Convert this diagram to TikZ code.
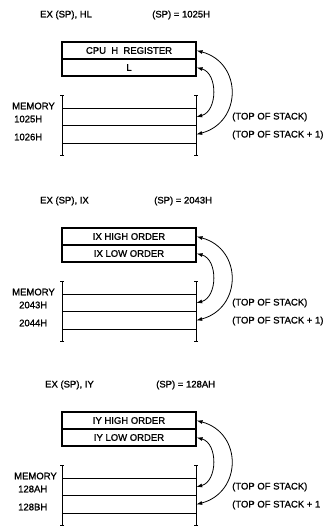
\documentclass[tikz,border=0pt]{standalone}
\usepackage{fontspec}
\setmainfont{Liberation Sans}[FakeBold=1.2]
\usetikzlibrary{arrows.meta}
\begin{document}
\begin{tikzpicture}[x=1pt,y=-1pt,font=\fontsize{9.5}{11}\selectfont,
 reg/.style={draw,line width=1.1pt,minimum width=134pt,minimum height=17pt,inner sep=0pt},
 row/.style={minimum width=134pt,minimum height=17.5pt,inner sep=0pt},
 lbl/.style={anchor=west,inner sep=0pt},
 memline/.style={line width=1.1pt},
 bar/.style={line width=0.9pt,{Bar[width=4pt]}-{Bar[width=4pt]}},
 xchg/.style={line width=0.8pt,{Latex[length=6pt,width=4pt]}-{Latex[length=6pt,width=4pt]}}]
\useasboundingbox (0,0) rectangle (328,531);
% EX (SP),HL
\node[lbl] (op1) at (40,15) {EX (SP), HL}; \node[lbl] (sp1) at (152,15) {(SP) = 1025H};
\node[reg] (H1) at (129,50.5) {CPU\ \ H\ \ REGISTER}; \node[reg] (L1) at (129,67.5) {L};
\node[row] (M1a) at (129,117) {}; \node[row] (M1b) at (129,134.5) {};
\draw[memline] (M1a.north west) -- (M1a.north east) (M1b.north west) -- (M1b.north east) (M1b.south west) -- (M1b.south east);
\draw[bar] (62,95) -- (62,156); \draw[bar] (196,95) -- (196,156);
\node[lbl] (mem1) at (12,106) {MEMORY}; \node[lbl] (a1a) at (14,119) {1025H}; \node[lbl] (a1b) at (14,137) {1026H};
\node[lbl] (t1a) at (232,117) {(TOP OF STACK)}; \node[lbl] (t1b) at (232,135) {(TOP OF STACK + 1)};
\draw[xchg] (H1.east) to[out=-15,in=15,looseness=1.45] (M1b.east); \draw[xchg] (L1.east) to[out=-15,in=15,looseness=1.15] (M1a.east);
% EX (SP),IX
\node[lbl] (op2) at (40,201) {EX (SP), IX}; \node[lbl] (sp2) at (154,201) {(SP) = 2043H};
\node[reg] (H2) at (129,236.5) {IX HIGH ORDER}; \node[reg] (L2) at (129,253.5) {IX LOW ORDER};
\node[row] (M2a) at (129,303) {}; \node[row] (M2b) at (129,320.5) {};
\draw[memline] (M2a.north west) -- (M2a.north east) (M2b.north west) -- (M2b.north east) (M2b.south west) -- (M2b.south east);
\draw[bar] (62,281) -- (62,342); \draw[bar] (196,281) -- (196,342);
\node[lbl] (mem2) at (12,292) {MEMORY}; \node[lbl] (a2a) at (19,305) {2043H}; \node[lbl] (a2b) at (19,323) {2044H};
\node[lbl] (t2a) at (232,303) {(TOP OF STACK)}; \node[lbl] (t2b) at (232,321) {(TOP OF STACK + 1)};
\draw[xchg] (H2.east) to[out=-15,in=15,looseness=1.45] (M2b.east); \draw[xchg] (L2.east) to[out=-15,in=15,looseness=1.15] (M2a.east);
% EX (SP),IY
\node[lbl] (op3) at (45,385) {EX (SP), IY}; \node[lbl] (sp3) at (156,385) {(SP) = 128AH};
\node[reg] (H3) at (129,420.5) {IY HIGH ORDER}; \node[reg] (L3) at (129,437.5) {IY LOW ORDER};
\node[row] (M3a) at (129,487) {}; \node[row] (M3b) at (129,504.5) {};
\draw[memline] (M3a.north west) -- (M3a.north east) (M3b.north west) -- (M3b.north east) (M3b.south west) -- (M3b.south east);
\draw[bar] (62,465) -- (62,526); \draw[bar] (196,465) -- (196,526);
\node[lbl] (mem3) at (14,476) {MEMORY}; \node[lbl] (a3a) at (18,489) {128AH}; \node[lbl] (a3b) at (18,507) {128BH};
\node[lbl] (t3a) at (232,487) {(TOP OF STACK)}; \node[lbl] (t3b) at (232,505) {(TOP OF STACK + 1};
\draw[xchg] (H3.east) to[out=-15,in=15,looseness=1.45] (M3b.east); \draw[xchg] (L3.east) to[out=-15,in=15,looseness=1.15] (M3a.east);
\end{tikzpicture}
\end{document}
